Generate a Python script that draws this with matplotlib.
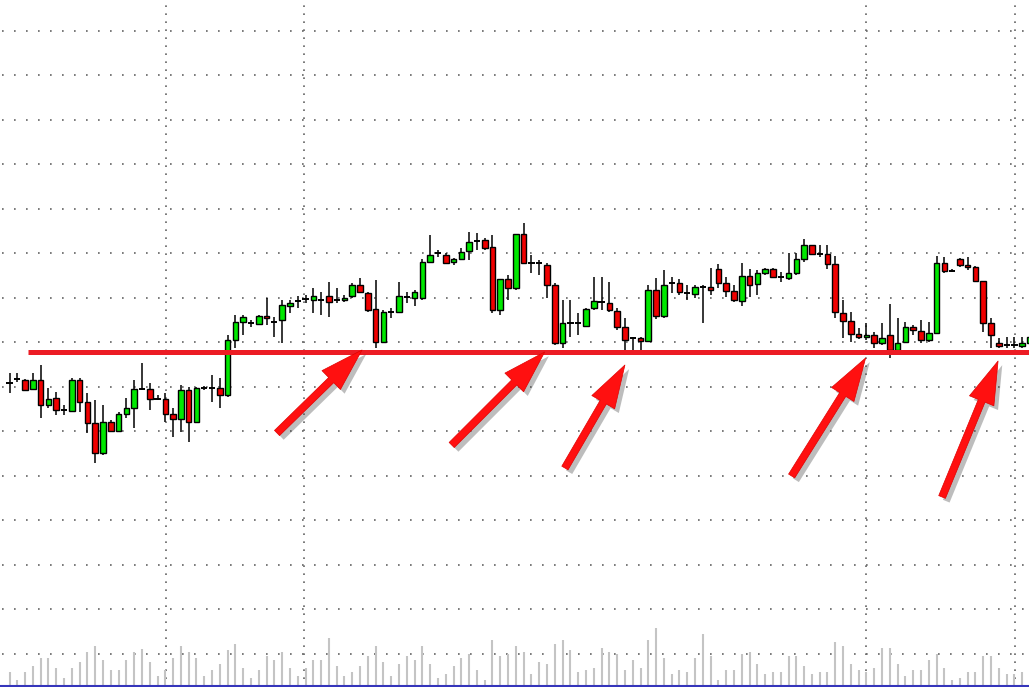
# MT4-style candle chart with support line + arrows
import numpy as np,matplotlib;matplotlib.use('Agg')
import matplotlib.pyplot as plt;import matplotlib.patheffects as pe
plt.rcParams['lines.scale_dashes']=False

# --- data (price in chart points) ---
op=[317,321,320,311,320,295,302,290,289,320,298,277,247,278,269,286,292,311,311,301,
    301,286,281,310,278,312,312,312,305,360,378,377,376,384,378,380,394,399,401,400,
    400,404,400,400,404,415,407,391,358,388,388,403,402,402,438,447,445,438,441,449,
    459,460,453,390,421,412,466,437,437,435,415,357,377,377,374,392,398,397,389,373,
    362,362,359,410,384,417,417,407,406,413,413,431,417,409,399,424,416,427,431,423,
    422,427,441,455,446,446,436,387,379,366,363,365,357,365,350,358,373,369,360,367,
    437,429,441,435,433,419,377,357,355,355,354,357]
hi=[327,327,321,327,335,312,308,295,322,322,307,300,295,280,288,302,320,337,317,305,
    307,292,315,313,313,314,325,322,365,385,385,380,385,402,383,400,400,404,405,412,
    408,418,412,405,417,422,408,420,390,392,418,408,410,441,465,450,447,442,452,468,
    467,462,465,421,425,466,477,445,440,437,417,400,400,387,392,423,423,418,392,382,
    363,363,415,422,430,423,421,415,415,415,432,436,423,415,437,431,430,432,432,428,
    447,447,461,455,455,455,444,400,388,372,377,368,377,396,382,378,375,380,378,444,
    443,431,442,443,434,419,382,362,363,363,363,366]
lo=[307,318,309,310,282,292,285,285,288,288,267,237,245,268,268,282,272,310,290,300,
    278,263,268,258,277,310,298,292,303,352,365,373,375,375,363,357,387,392,397,387,
    385,383,397,398,402,407,388,352,357,382,387,397,394,400,437,443,437,435,440,440,
    450,450,387,385,400,410,437,427,425,402,355,352,363,365,373,390,390,388,370,350,
    350,350,358,381,382,407,405,400,402,377,405,412,403,398,394,403,405,425,422,418,
    420,425,438,445,443,431,382,362,358,361,360,352,355,342,350,357,365,357,358,366,
    427,428,433,430,418,368,352,352,352,352,352,355]
cl=[317,321,310,320,295,301,290,290,320,298,277,247,278,269,286,292,311,311,301,301,
    286,281,310,278,312,312,312,305,360,378,383,377,384,382,378,395,397,399,401,404,
    400,398,400,402,415,408,390,358,388,388,404,403,408,438,445,447,437,441,448,458,
    459,452,390,421,412,466,437,437,437,415,357,377,377,377,391,399,398,390,373,360,
    362,359,410,384,415,417,408,407,413,413,410,417,409,400,424,415,427,431,423,423,
    427,441,455,446,446,436,388,379,366,363,365,357,362,350,357,373,370,360,367,437,
    429,429,435,433,419,377,365,354,355,355,357,363]
vol=[14,6,14,20,28,28,18,8,18,24,34,40,26,16,16,26,34,37,24,10,
     16,28,40,34,28,10,16,22,36,42,18,8,16,30,26,34,18,10,18,26,
     26,48,20,10,14,20,30,40,24,10,22,30,26,40,22,8,12,20,28,32,
     16,6,46,30,32,40,34,12,24,22,42,46,36,14,16,18,38,34,32,16,
     26,18,46,58,28,12,16,14,28,52,30,6,16,16,32,34,22,12,14,14,
     30,30,20,12,14,14,44,40,22,16,14,18,38,38,22,10,16,16,26,32,
     18,6,8,14,14,30,30,18,12,12,14,10]
support=348
# arrows: tip (bar index, price), tail offset in pixels
arr_x=[45.25,68.7,79.0,109.9,126.9];arr_y=[350,348,335,342,339]
arr_dx=[-85,-93,-60,-74,-56];arr_dy=[-83,-93,-103,-118,-136]
vgrid=[20.05,37.85,109.95,129.1]  # day separators

op,hi,lo,cl,vol=map(np.array,(op,hi,lo,cl,vol))
x=np.arange(len(op))

fig=plt.figure(figsize=(10.29,6.87),dpi=100)
ax=fig.add_axes([0,0,1,1]);ax.set_xlim(-1.22,130.87);ax.set_ylim(13,700);ax.axis('off')

# dotted grid
for gy in np.arange(669.3,0,-44.5):ax.axhline(gy,color='#6a6a6a',lw=1.25,ls=(7.2,(1.2,7.44)),zorder=0)
for gx in vgrid:ax.axvline(gx,color='#6a6a6a',lw=1.25,ls=(0,(1.2,4.56)),zorder=0)

# candles
ax.vlines(x,lo,hi,color='black',lw=1.1,zorder=2)
up=cl>op;dn=cl<op;dj=cl==op
ax.bar(x[up],(cl-op)[up],bottom=op[up],width=0.72,color='#00e800',edgecolor='black',lw=1.0,zorder=3)
ax.bar(x[dn],(cl-op)[dn],bottom=op[dn],width=0.72,color='#f00000',edgecolor='black',lw=1.0,zorder=3)
ax.hlines(op[dj],x[dj]-0.4,x[dj]+0.4,color='black',lw=1.4,zorder=3)

# support line
ax.hlines(support,2.4,132,color='#ec1c24',lw=3.6,zorder=4)

# arrows
for tx,ty,dx,dy in zip(arr_x,arr_y,arr_dx,arr_dy):
    a=ax.annotate('',xy=(tx,ty),xytext=(dx,dy),textcoords='offset pixels',zorder=5,
        arrowprops=dict(arrowstyle='simple,head_length=31,head_width=19,tail_width=5.2',mutation_scale=1,
                        fc='#ff1010',ec='#e00000',lw=0.5,shrinkA=0,shrinkB=0))
    a.arrow_patch.set_path_effects([pe.withSimplePatchShadow(offset=(3,-3),shadow_rgbFace='#444444',alpha=0.35)])

# volumes overlay at bottom
vax=fig.add_axes([0,1.5/687,1,86/687]);vax.set_xlim(ax.get_xlim());vax.set_ylim(0,86);vax.axis('off')
vax.vlines(x,0,vol,color='#c4c4c4',lw=1.5)
vax.axhline(0,color='#3535bb',lw=1.5,clip_on=False)

fig.savefig('out.png',dpi=100)
